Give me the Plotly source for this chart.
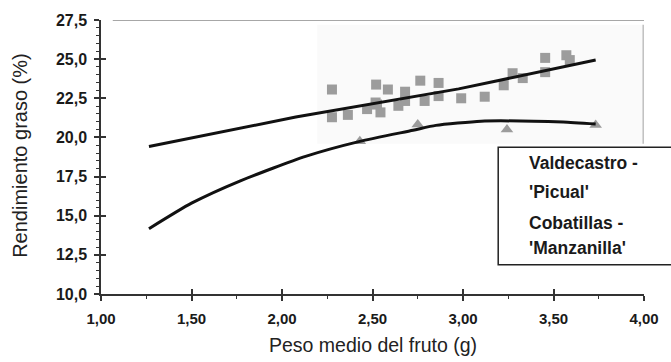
import plotly.graph_objects as go

# Fruit weight (g) vs. oil yield (%) for two orchards
picual_x = [2.276, 2.276, 2.364, 2.47, 2.517, 2.52, 2.525, 2.544, 2.585, 2.643, 2.68, 2.68,
            2.764, 2.788, 2.865, 2.865, 2.99, 3.12, 3.225, 3.274, 3.33, 3.454, 3.454, 3.571, 3.59]
picual_y = [23.06, 21.29, 21.44, 21.81, 22.23, 23.375, 22.1, 21.6, 23.06, 22.02, 22.92, 22.33,
            23.625, 22.33, 23.48, 22.64, 22.5, 22.6, 23.33, 24.1, 23.79, 25.08, 24.17, 25.25, 24.94]

manz_x = [2.43, 2.75, 3.243, 3.733]
manz_y = [19.75, 20.83, 20.5, 20.8]

# Fitted trend curves
picual_fit_x = [1.265, 2.076, 2.976, 3.23, 3.733]
picual_fit_y = [19.42, 21.3, 23.1, 23.72, 24.94]

manz_fit_x = [1.265, 1.5, 1.77, 2.13, 2.43, 2.724, 2.85, 3.10, 3.39, 3.553, 3.733]
manz_fit_y = [14.17, 15.8, 17.23, 18.79, 19.75, 20.46, 20.77, 21.04, 21.04, 20.98, 20.85]

x_ticks = [1.0, 1.5, 2.0, 2.5, 3.0, 3.5, 4.0]
y_ticks = [10.0, 12.5, 15.0, 17.5, 20.0, 22.5, 25.0, 27.5]

legend_lines = ["Valdecastro -", "'Picual'", "Cobatillas -", "'Manzanilla'"]
x_title = "Peso medio del fruto (g)"
y_title = "Rendimiento graso (%)"

FONT = "Liberation Sans, Arial, sans-serif"
GREY = "#9c9c9c"

fig = go.Figure()

fig.add_trace(go.Scatter(x=picual_x, y=picual_y, mode="markers",
                         marker=dict(symbol="square", size=10, color=GREY),
                         showlegend=False, hoverinfo="skip"))
fig.add_trace(go.Scatter(x=manz_x, y=manz_y, mode="markers",
                         marker=dict(symbol="triangle-up", size=11, color=GREY),
                         showlegend=False, hoverinfo="skip"))
fig.add_trace(go.Scatter(x=picual_fit_x, y=picual_fit_y, mode="lines",
                         line=dict(color="#111111", width=3),
                         showlegend=False, hoverinfo="skip"))
fig.add_trace(go.Scatter(x=manz_fit_x, y=manz_fit_y, mode="lines",
                         line=dict(color="#111111", width=3, shape="spline", smoothing=0.6),
                         showlegend=False, hoverinfo="skip"))
# invisible trace anchoring the inward-tick overlay axes
fig.add_trace(go.Scatter(x=[1.0], y=[10.0], xaxis="x2", yaxis="y2", mode="markers",
                         marker=dict(opacity=0), showlegend=False, hoverinfo="skip"))

tickfont = dict(family=FONT, size=15, color="#1a1a1a", weight="bold")

fig.update_layout(
    width=671, height=362,
    margin=dict(l=101, r=15, t=14, b=68),
    paper_bgcolor="white", plot_bgcolor="white",
    separators=",.",
    xaxis=dict(range=[1.0, 4.0], tickvals=x_ticks, tickformat=".2f",
               showgrid=False, zeroline=False, showline=True, linecolor="#333333", linewidth=1.5,
               ticks="outside", ticklen=5, tickwidth=1.5, tickcolor="#333333",
               minor=dict(dtick=0.25, ticks="outside", ticklen=3, tickwidth=1, tickcolor="#333333"),
               tickfont=tickfont, ticklabelstandoff=5),
    yaxis=dict(range=[10.0, 27.5], tickvals=y_ticks, tickformat=".1f",
               showgrid=False, zeroline=False, showline=True, linecolor="#333333", linewidth=1.5,
               ticks="outside", ticklen=5, tickwidth=1.5, tickcolor="#333333",
               minor=dict(dtick=0.5, ticks="outside", ticklen=3, tickwidth=1, tickcolor="#333333"),
               tickfont=dict(family=FONT, size=16, color="#1a1a1a", weight="bold"),
               ticklabelstandoff=4),
    xaxis2=dict(range=[1.0, 4.0], overlaying="x", side="bottom", tickvals=x_ticks,
                showticklabels=False, showgrid=False, zeroline=False, showline=False,
                ticks="inside", ticklen=5, tickwidth=1.5, tickcolor="#333333"),
    yaxis2=dict(range=[10.0, 27.5], overlaying="y", side="left", tickvals=y_ticks,
                showticklabels=False, showgrid=False, zeroline=False, showline=False,
                ticks="inside", ticklen=5, tickwidth=1.5, tickcolor="#333333"),
)

# faint frame on top and right
fig.add_shape(type="line", xref="x", yref="y", x0=1.065, x1=4.0, y0=27.5, y1=27.5,
              line=dict(color="#8a8a8a", width=1.5), layer="below")
fig.add_shape(type="line", xref="x", yref="y", x0=3.995, x1=3.995, y0=27.2, y1=19.6,
              line=dict(color="#a8a8a8", width=1.2), layer="below")
fig.add_shape(type="rect", xref="x", yref="y", x0=2.195, x1=3.99, y0=19.6, y1=27.2,
              fillcolor="#fafafa", line=dict(width=0), layer="below")

# legend box, running past the right edge
fig.add_shape(type="rect", xref="paper", yref="paper", x0=0.7315, x1=1.2, y0=0.107, y1=0.5357,
              fillcolor="white", line=dict(color="#222222", width=1.5), layer="above")

legend_y_px = [160, 190, 221, 247]
for txt, py in zip(legend_lines, legend_y_px):
    fig.add_annotation(xref="paper", yref="paper", x=(536 - 101) / 555, y=(294 - py) / 280,
                       text=txt, showarrow=False, xanchor="left", yanchor="middle",
                       font=dict(family=FONT, size=17.5, color="#1a1a1a", weight="bold"))

fig.add_annotation(xref="paper", yref="paper", x=0.5, y=(294 - 346) / 280, text=x_title,
                   showarrow=False, xanchor="center", yanchor="middle",
                   font=dict(family=FONT, size=19.5, color="#222222"))
fig.add_annotation(xref="paper", yref="paper", x=(18 - 101) / 555, y=(294 - 152) / 280, text=y_title,
                   showarrow=False, xanchor="center", yanchor="middle", textangle=-90,
                   font=dict(family=FONT, size=20, color="#222222"))

fig.write_html("out.html")
